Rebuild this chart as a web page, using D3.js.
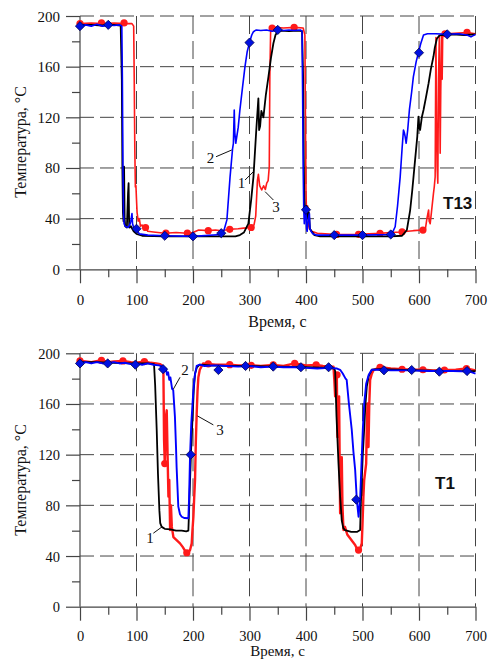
<!DOCTYPE html>
<html><head><meta charset="utf-8">
<script src="https://cdn.jsdelivr.net/npm/d3@7"></script>
<style>
html,body{margin:0;padding:0;background:#fff;}
svg{display:block;}
</style></head>
<body>
<script>
// ---------------- DATA ----------------
const xTicks = [0,100,200,300,400,500,600,700];
const yTicks = [0,40,80,120,160,200];
const xLabel = "Время, с";
const yLabel = "Температура, °C";

// Top panel (T13)
const top_black = [[0,193],[20,193],[40,192.5],[60,193],[72,192.5],[74,150],[75,80],[76,45],[77,38],[78,81],[79,40],[80,34],[83,33],[85,60],[86,68],[87,35],[88,33],[90,34],[95,30],[100,28],[110,26.5],[150,26],[200,26],[250,26],[275,26],[283,27],[290,29],[298,36],[303,55],[307,73],[312,110],[315.7,135],[317,110],[318.8,113],[321,125],[324.6,120],[329,138],[333.5,152],[338,167],[342.3,178.5],[346,185],[349.5,187.6],[355,188.5],[370,188],[385,188.5],[393,188],[395,150],[396,90],[397,55],[399,42],[401,50],[403,40],[405,45],[407,32],[410,30],[415,27],[425,26],[450,26],[500,26],[550,26],[570,26.5],[578.5,31],[584.4,46.8],[588,62],[593,86],[597,105],[599,120.5],[600.5,112],[602,110],[605,120],[608,125.8],[612,135],[617,147],[621,158],[625.6,168],[628,175],[631.6,182],[636,184.5],[640.5,185],[660,185.5],[680,185],[700,185.5]];
const top_blue = [[0,192],[10,193],[20,192],[30,193.5],[40,192],[50,193],[60,192.5],[70,193],[74,192],[75,150],[76,80],[77,45],[78,36],[80,34],[85,33],[88,35],[90,38],[92,44],[93,36],[95,33],[100,31],[105,28],[120,27],[150,26.5],[200,26],[250,27.5],[255,31],[260,39],[265.6,73],[270,95],[271.5,99.5],[273,125.8],[274,108],[275.7,99.5],[280,112],[283,125.8],[288,145],[292,160],[296,172],[300,179],[304,185],[307,187.6],[312,189],[320,188.5],[330,189],[340,188],[350,189],[360,188.5],[370,189],[380,188.5],[390,189],[393,188],[394,140],[395,80],[396,48],[397,36],[398.5,46.8],[400,44],[401,32],[402,30],[404,40],[406,44],[407,32],[409,30],[412,28],[418,27],[450,27],[500,27],[550,27.5],[554,30],[557.8,33.6],[562,50],[566.7,73],[570,95],[572.5,110],[574,108],[575.5,104.7],[577.3,99.5],[580,110],[583,125.8],[587,140],[590,152],[595,164],[599,171],[603,178],[608,185],[615,186],[630,186],[650,185.5],[670,186],[685,185],[692,183.5],[700,185.5]];
const top_red = [[0,194],[20,194.5],[40,194],[60,194.5],[80,194],[92,194],[95,192],[96,150],[97,95],[98,65],[99,66],[100,55],[101,45],[103,38],[105,40],[107,34],[110,35],[113,32],[116,33],[120,30],[130,29.5],[150,28.5],[170,29],[190,28.5],[200,29],[210,31],[227,30.5],[240,31],[250,30.5],[265.6,31.6],[280,32],[290,32.5],[302.8,33],[308,35],[311,42],[314,70],[315.7,75],[318,66],[321.6,62.6],[325,66],[328,63],[330.5,68],[333,70],[335,81],[336,152],[337.5,190.5],[345,191],[360,190.5],[380,191],[395,190.5],[398,185],[399,120],[400,60],[401,45],[403,50],[404,36],[406,32],[410,30],[420,28.5],[454.5,27.5],[493,27.6],[531,28.4],[550,29],[569.6,29.5],[580,30],[590,30.5],[606.8,31],[611,31],[614,40],[617,46.8],[618,38],[619.8,36],[622,45],[625.6,60],[627,65],[628.6,73],[629.5,150],[630,183],[631,120],[632,81],[633.3,68],[634.5,150],[636,184],[637,120],[637.5,91.6],[638.5,140],[640,184],[641,150],[642,186],[650,186],[670,186.5],[685,187],[700,186]];
const top_blueMarks = [[0,192],[50,193],[100,32],[150,26.5],[200,26],[250,28.5],[300,179],[350,189],[400,47],[450,27],[500,27],[550,27.5],[600,171],[650,185.5]];
const top_redMarks = [[0,194],[38,194.5],[78,194.5],[116,33],[152,28.5],[190,28.5],[227,30.5],[265,31.6],[303,33],[340,190.5],[379,191],[454,27.5],[493,27.6],[531,28.4],[570,29.5],[607,31],[646,186],[685,187]];
// annotations: [label, textT, textV, lineT1, lineV1, lineT2, lineV2]
const top_notes = [["2",231,87.6,240.8,88.9,268.6,94.2],["1",286,67.9,292.2,70.5,306.9,77.1],["3",347,49.4,327.6,61.3,342.3,54.7]];
const top_name = "T13";

// Bottom panel (T1)
const bot_black = [[0,193],[30,193],[60,192.5],[90,192],[120,192],[131,191.5],[133,175],[135.8,139],[138,105],[140.5,76],[142,66],[144.6,63],[150,61.5],[160,61],[170,60],[180,60],[188,59.5],[191.8,60],[193,75],[194.8,100],[197,128],[199.5,152],[201.5,172],[203.6,184],[207,189],[212,191],[230,190.5],[260,190],[300,190],[350,189.5],[400,189],[440,188.5],[450,188],[451.6,186],[454,150],[457.5,113],[460.4,87],[463.3,68],[466,62],[469,60.5],[480,59],[490,59],[495.8,60.5],[497,80],[498.7,100],[500.5,120],[502.9,139.5],[505,158],[507.6,173.7],[511,182],[516.5,187],[530,187.5],[560,187],[600,186.5],[650,186],[700,186]];
const bot_blue = [[0,192],[10,193],[20,192],[30,193],[40,192],[50,192.5],[60,193],[70,192],[80,192.5],[90,191.5],[100,192],[110,191],[120,192],[130,191],[140,190.5],[147.6,189],[150,186],[152,188],[154,183],[156,185],[158,179],[160,181],[163,172],[165,171],[168,150],[170,125],[171,110],[174,79],[177,73],[180,71],[185,70],[191.8,69.8],[193,85],[194.8,119.7],[197,145],[200.7,171],[203,182],[206.5,190],[212,191],[220,190],[240,190.5],[260,190],[280,189.5],[300,190],[320,189],[340,189.5],[360,189],[380,189],[400,188.5],[420,188],[440,188.5],[455,188],[460.4,187],[465,184],[470,180],[472,179],[476,160],[481,139.5],[484,122],[487,108],[490,84],[493,71],[496,87],[498,110],[500.5,139.5],[503,160],[506.5,176],[511,183],[516.5,187],[530,187],[550,186.5],[580,186.5],[620,186],[660,186],[690,185.5],[700,184]];
const bot_red = [[0,194],[10,193.5],[20,193],[38,194.5],[50,193],[60,193.5],[76,194],[90,193],[100,192.5],[114,193.5],[125,192.5],[135,192],[142,191.5],[146,190],[147.6,186],[148.8,131.6],[150,113],[150.5,121],[152,150],[153.5,155],[155,120],[156.5,87],[158,100],[159.5,60.5],[161,80],[162.5,63],[165.3,55],[170,53],[177,50],[182,47],[186,44],[188.7,43.4],[192,43],[194.8,44.7],[197.7,50],[199,60],[200.7,71],[202,85],[203.6,100],[205,130],[206.5,152],[208,170],[209.5,181],[212,187],[218,192],[227,191.6],[240,191],[265,191],[280,190.5],[303,190.5],[320,190],[342,190.8],[360,190],[380,192],[400,190.5],[418,190.8],[430,190],[445,189.5],[448.6,189.5],[450,180],[451.6,166],[453.4,184],[454.5,183],[455.7,134],[457,150],[458.6,166],[459.5,120],[460.4,73.7],[462,90],[463.3,118],[464.5,80],[466.3,60.5],[469,63],[473,57],[478,54],[483,51],[487,48.7],[491,45],[493,44.7],[496,46],[498.7,50],[500,65],[501.6,87],[503,100],[506.5,113],[507.5,140],[508.9,160.5],[510.6,126],[512,160],[513.5,179],[516.5,184],[520,187],[525.4,188],[531,189],[550,188],[569.6,187.4],[590,187],[607,187],[625,186.5],[644.6,186.8],[665,187],[684,188],[700,186.5]];
const bot_blueMarks = [[0,192],[49,192],[98,191],[147,187.5],[196,120],[245,186.8],[293,190],[342,189.5],[391,189],[440,189],[489,84.5],[538,186.6],[587,186.8],[636,185.5],[685,186]];
const bot_redMarks = [[0,194],[38,194.5],[76,194],[114,193.5],[150,113],[189,42.6],[227,191.6],[265,191],[303,190.5],[342,190.8],[380,192],[418,190.8],[455,183],[493,44.7],[531,189],[570,187.4],[607,187],[645,186.8],[684,188]];
const bot_notes = [["2",186,186.9,177.1,181.1,165.2,171.7],["1",124,54,129.8,58,145.7,63.2],["3",248,139.5,236,143.5,207.7,150.6]];
const bot_name = "T1";

// ---------------- DRAW ----------------
const W = 492, H = 665;
const svg = d3.select("body").append("svg").attr("width", W).attr("height", H);
const x = d3.scaleLinear().domain([0,700]).range([80,475.5]);
const SERIF = "Liberation Serif, Times New Roman, serif";

function panel(cfg){
  const y = d3.scaleLinear().domain([0,200]).range([cfg.y0, cfg.y200]);
  const g = svg.append("g");
  const axCol = "#444";
  // grid
  g.selectAll(".hg").data(yTicks.filter(d=>d>0)).join("line")
    .attr("x1", x(0)).attr("x2", x(700)).attr("y1", d=>y(d)).attr("y2", d=>y(d))
    .attr("stroke", axCol).attr("stroke-width",1).attr("stroke-dasharray","14,6");
  g.selectAll(".vg").data(xTicks.filter(d=>d>0)).join("line")
    .attr("y1", y(200)).attr("y2", y(0)).attr("x1", d=>x(d)).attr("x2", d=>x(d))
    .attr("stroke", axCol).attr("stroke-width",1).attr("stroke-dasharray","18,7");
  // axes
  const xa = g.append("g").attr("transform",`translate(0,${y(0)})`)
    .call(d3.axisBottom(x).tickValues(xTicks).tickSize(14).tickSizeOuter(0).tickFormat(d3.format("d")));
  const xm = g.append("g").attr("transform",`translate(0,${y(0)})`)
    .call(d3.axisBottom(x).tickValues(d3.range(50,700,100)).tickSize(8).tickFormat(""));
  const ya = g.append("g").attr("transform",`translate(${x(0)},0)`)
    .call(d3.axisLeft(y).tickValues(yTicks).tickSize(14).tickSizeOuter(0).tickFormat(d3.format("d")));
  const ym = g.append("g").attr("transform",`translate(${x(0)},0)`)
    .call(d3.axisLeft(y).tickValues(d3.range(20,200,40)).tickSize(8).tickFormat(""));
  [xa,xm,ya,ym].forEach(a=>{
    a.attr("font-family", SERIF);
    a.selectAll("line").attr("stroke", axCol).attr("stroke-width",1.2);
    a.select(".domain").attr("stroke", axCol).attr("stroke-width",1.2);
    a.selectAll("text").attr("fill","#111").attr("font-family", SERIF).attr("font-size", cfg.tickFs);
  });
  xm.select(".domain").remove(); ym.select(".domain").remove();
  ya.select(".domain").attr("d", `M0,${y(200)}V${y(0)}`);
  xa.selectAll("text").attr("y", null).attr("dy", null).attr("transform", `translate(0,${cfg.xLabOff})`).attr("dominant-baseline","central");
  ya.selectAll("text").attr("x", -20).attr("dy", null).attr("dominant-baseline","central");

  // axis titles
  g.append("text").attr("x", 277.5).attr("y", cfg.xTitleY).attr("text-anchor","middle").attr("dominant-baseline","central")
    .attr("font-family", SERIF).attr("font-size", cfg.titleFs).attr("fill","#111").text(xLabel);
  g.append("text").attr("transform",`translate(20,${cfg.yTitleY}) rotate(-90)`).attr("text-anchor","middle").attr("dominant-baseline","central")
    .attr("font-family", SERIF).attr("font-size", 16).attr("fill","#111").text(yLabel);

  const line = d3.line().x(d=>x(d[0])).y(d=>y(d[1]));
  g.append("path").datum(cfg.red).attr("d", line).attr("fill","none").attr("stroke","#ff1a1a").attr("stroke-width", cfg.redW).attr("stroke-linejoin","round");
  g.selectAll(".rm").data(cfg.redMarks).join("circle").attr("cx", d=>x(d[0])).attr("cy", d=>y(d[1])).attr("r",3.6).attr("fill","#ff1a1a");
  g.append("path").datum(cfg.black).attr("d", line).attr("fill","none").attr("stroke","#000").attr("stroke-width", 1.8).attr("stroke-linejoin","round");
  g.append("path").datum(cfg.blue).attr("d", line).attr("fill","none").attr("stroke","#0000ff").attr("stroke-width", cfg.blueW).attr("stroke-linejoin","round");
  g.selectAll(".bm").data(cfg.blueMarks).join("path")
    .attr("d", d=>{const cx=x(d[0]), cy=y(d[1]), r=4.6; return `M${cx},${cy-r}L${cx+r},${cy}L${cx},${cy+r}L${cx-r},${cy}Z`;})
    .attr("fill","#0010e0").attr("stroke","#000050").attr("stroke-width",0.8);

  // annotations
  cfg.notes.forEach(n=>{
    g.append("line").attr("x1", x(n[3])).attr("y1", y(n[4])).attr("x2", x(n[5])).attr("y2", y(n[6])).attr("stroke","#111").attr("stroke-width",1);
    g.append("text").attr("x", x(n[1])).attr("y", y(n[2])).attr("text-anchor","middle").attr("dominant-baseline","central")
      .attr("font-family", SERIF).attr("font-size", 15).attr("fill","#111").text(n[0]);
  });
  g.append("text").attr("x", cfg.nameX).attr("y", cfg.nameY).attr("font-family","Liberation Sans, Arial, sans-serif")
    .attr("font-weight","bold").attr("font-size", 17).attr("fill","#111").text(cfg.name);
}

panel({y0:269.3, y200:16, tickFs:15, titleFs:16, xLabOff:31, xTitleY:321, yTitleY:142,
  red:top_red, black:top_black, blue:top_blue, redMarks:top_redMarks, blueMarks:top_blueMarks,
  redW:1.6, blueW:1.6, notes:top_notes, name:top_name, nameX:443, nameY:209});
panel({y0:606.7, y200:353.3, tickFs:14.5, titleFs:15, xLabOff:29, xTitleY:651, yTitleY:480,
  red:bot_red, black:bot_black, blue:bot_blue, redMarks:bot_redMarks, blueMarks:bot_blueMarks,
  redW:2.4, blueW:1.9, notes:bot_notes, name:bot_name, nameX:435, nameY:489});
</script>
</body></html>
